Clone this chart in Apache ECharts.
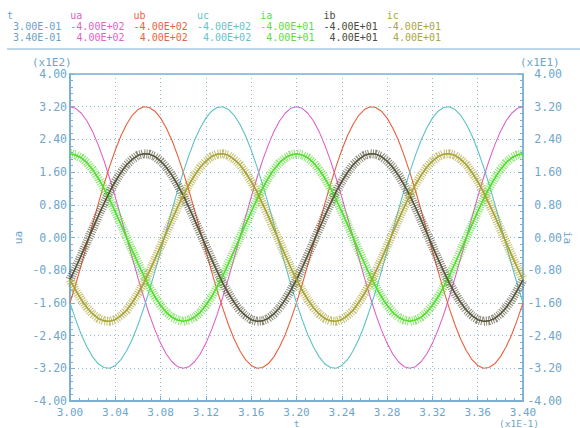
<!DOCTYPE html>
<html>
<head>
<meta charset="utf-8">
<script src="https://cdn.jsdelivr.net/npm/echarts@6/dist/echarts.min.js"></script>
<style>html,body{margin:0;padding:0;background:#fff;}#c{width:580px;height:428px;}</style>
</head>
<body>
<div id="c"></div>
<script>
// time axis (x1E-1)
var tVals = [3.000,3.005,3.010,3.015,3.020,3.025,3.030,3.035,3.040,3.045,3.050,3.055,3.060,3.065,3.070,3.075,3.080,3.085,3.090,3.095,3.100,3.105,3.110,3.115,3.120,3.125,3.130,3.135,3.140,3.145,3.150,3.155,3.160,3.165,3.170,3.175,3.180,3.185,3.190,3.195,3.200,3.205,3.210,3.215,3.220,3.225,3.230,3.235,3.240,3.245,3.250,3.255,3.260,3.265,3.270,3.275,3.280,3.285,3.290,3.295,3.300,3.305,3.310,3.315,3.320,3.325,3.330,3.335,3.340,3.345,3.350,3.355,3.360,3.365,3.370,3.375,3.380,3.385,3.390,3.395,3.400];
// voltages (V)
var ua = [320,316,304,285,259,226,188,145,99,50,0,-50,-99,-145,-188,-226,-259,-285,-304,-316,-320,-316,-304,-285,-259,-226,-188,-145,-99,-50,0,50,99,145,188,226,259,285,304,316,320,
          316,304,285,259,226,188,145,99,50,0,-50,-99,-145,-188,-226,-259,-285,-304,-316,-320,-316,-304,-285,-259,-226,-188,-145,-99,-50,0,50,99,145,188,226,259,285,304,316,320];
var ub = [-160,-115,-67,-17,33,83,130,174,214,249,277,299,313,320,318,309,292,268,238,201,160,115,67,17,-33,-83,-130,-174,-214,-249,-277,-299,-313,-320,-318,-309,-292,-268,-238,-201,-160,
          -115,-67,-17,33,83,130,174,214,249,277,299,313,320,318,309,292,268,238,201,160,115,67,17,-33,-83,-130,-174,-214,-249,-277,-299,-313,-320,-318,-309,-292,-268,-238,-201,-160];
var uc = [-160,-201,-238,-268,-292,-309,-318,-320,-313,-299,-277,-249,-214,-174,-130,-83,-33,17,67,115,160,201,238,268,292,309,318,320,313,299,277,249,214,174,130,83,33,-17,-67,-115,-160,
          -201,-238,-268,-292,-309,-318,-320,-313,-299,-277,-249,-214,-174,-130,-83,-33,17,67,115,160,201,238,268,292,309,318,320,313,299,277,249,214,174,130,83,33,-17,-67,-115,-160];
// currents (A)
var ia = [20.5,20.2,19.5,18.3,16.6,14.5,12.0,9.3,6.3,3.2,0,-3.2,-6.3,-9.3,-12.0,-14.5,-16.6,-18.3,-19.5,-20.2,-20.5,-20.2,-19.5,-18.3,-16.6,-14.5,-12.0,-9.3,-6.3,-3.2,0,3.2,6.3,9.3,12.0,14.5,16.6,18.3,19.5,20.2,20.5,
          20.2,19.5,18.3,16.6,14.5,12.0,9.3,6.3,3.2,0,-3.2,-6.3,-9.3,-12.0,-14.5,-16.6,-18.3,-19.5,-20.2,-20.5,-20.2,-19.5,-18.3,-16.6,-14.5,-12.0,-9.3,-6.3,-3.2,0,3.2,6.3,9.3,12.0,14.5,16.6,18.3,19.5,20.2,20.5];
var ib = [-10.3,-7.4,-4.3,-1.1,2.1,5.3,8.3,11.2,13.7,15.9,17.8,19.1,20.1,20.5,20.4,19.8,18.7,17.2,15.2,12.9,10.3,7.4,4.3,1.1,-2.1,-5.3,-8.3,-11.2,-13.7,-15.9,-17.8,-19.1,-20.1,-20.5,-20.4,-19.8,-18.7,-17.2,-15.2,-12.9,-10.3,
          -7.4,-4.3,-1.1,2.1,5.3,8.3,11.2,13.7,15.9,17.8,19.1,20.1,20.5,20.4,19.8,18.7,17.2,15.2,12.9,10.3,7.4,4.3,1.1,-2.1,-5.3,-8.3,-11.2,-13.7,-15.9,-17.8,-19.1,-20.1,-20.5,-20.4,-19.8,-18.7,-17.2,-15.2,-12.9,-10.3];
var ic = [-10.3,-12.9,-15.2,-17.2,-18.7,-19.8,-20.4,-20.5,-20.1,-19.1,-17.8,-15.9,-13.7,-11.2,-8.3,-5.3,-2.1,1.1,4.3,7.4,10.3,12.9,15.2,17.2,18.7,19.8,20.4,20.5,20.1,19.1,17.8,15.9,13.7,11.2,8.3,5.3,2.1,-1.1,-4.3,-7.4,-10.3,
          -12.9,-15.2,-17.2,-18.7,-19.8,-20.4,-20.5,-20.1,-19.1,-17.8,-15.9,-13.7,-11.2,-8.3,-5.3,-2.1,1.1,4.3,7.4,10.3,12.9,15.2,17.2,18.7,19.8,20.4,20.5,20.1,19.1,17.8,15.9,13.7,11.2,8.3,5.3,2.1,-1.1,-4.3,-7.4,-10.3];

// header table
var headerNames = ['t','ua','ub','uc','ia','ib','ic'];
var headerMins  = ['3.00E-01','-4.00E+02','-4.00E+02','-4.00E+02','-4.00E+01','-4.00E+01','-4.00E+01'];
var headerMaxs  = ['3.40E-01','4.00E+02','4.00E+02','4.00E+02','4.00E+01','4.00E+01','4.00E+01'];
var headerColors = ['#6aa2c8','#e062c8','#e8643e','#62c4c8','#5ede3c','#4a4a40','#aaa640'];
var lineColors = {ua:'#e060c8', ub:'#e8603c', uc:'#5ec2c4', ia:'#52dc2c', ib:'#55533a', ic:'#a8a232'};

var AX = '#7cb0d2';
var TXT = '#6ea6cc';
var MONO = '"DejaVu Sans Mono", "Liberation Mono", monospace';

function pairs(arr){ return tVals.map(function(t,i){ return [t, arr[i]]; }); }

var graphics = [];
var cw = 6.1, colW = 63.3, hx0 = 7;
var rowY = [15, 26, 37];
headerNames.forEach(function(n, i){
  var x = hx0 + i*colW;
  var col = headerColors[i];
  graphics.push({type:'text', silent:true, style:{text:n, x:x, y:rowY[0], fill:col, font:'10px ' + MONO, textAlign:'left', align:'left', textVerticalAlign:'middle', verticalAlign:'middle'}});
  [headerMins[i], headerMaxs[i]].forEach(function(s, r){
    var xo = s.charAt(0) === '-' ? x : x + cw;
    graphics.push({type:'text', silent:true, style:{text:s, x:xo, y:rowY[r+1], fill:col, font:'10px ' + MONO, textAlign:'left', align:'left', textVerticalAlign:'middle', verticalAlign:'middle'}});
  });
});
graphics.push({type:'line', silent:true, shape:{x1:7,y1:49,x2:580,y2:49}, style:{stroke:AX, lineWidth:1}});
graphics.push({type:'text', silent:true, style:{text:'(x1E2)', x:32, y:62, fill:TXT, font:'11px ' + MONO, textVerticalAlign:'middle', verticalAlign:'middle'}});
graphics.push({type:'text', silent:true, style:{text:'(x1E1)', x:520, y:62, fill:TXT, font:'11px ' + MONO, textVerticalAlign:'middle', verticalAlign:'middle'}});
graphics.push({type:'text', silent:true, style:{text:'(x1E-1)', x:499, y:423, fill:TXT, font:'9.5px ' + MONO, textVerticalAlign:'middle', verticalAlign:'middle'}});

var dotted = {show:true, lineStyle:{color:'#8cbcd8', type:[1,3], width:1}};

function voltSeries(name, arr){
  return {name:name, type:'line', xAxisIndex:0, yAxisIndex:0, data:pairs(arr), symbol:'none', silent:true,
          lineStyle:{color:lineColors[name], width:1.1}, z:3};
}
function curBand(name, arr){
  return {name:name+'_band', type:'line', xAxisIndex:0, yAxisIndex:1, data:pairs(arr), symbol:'none', silent:true,
          lineStyle:{color:lineColors[name], width:9, opacity:0.7, type:[1,1.3]}, z:4};
}
function curSeries(name, arr){
  return {name:name, type:'line', xAxisIndex:0, yAxisIndex:1, data:pairs(arr), symbol:'none', silent:true,
          lineStyle:{color:lineColors[name], width:1.6}, z:5};
}

var option = {
  animation:false,
  backgroundColor:'#ffffff',
  grid:{left:70, right:57, top:74, bottom:27, outerBoundsMode:'none', containLabel:false, show:true, borderColor:AX, borderWidth:1.5, backgroundColor:'transparent'},
  xAxis:[{
    type:'value', min:3.0, max:3.4, interval:0.04,
    name:'t', nameLocation:'middle', nameGap:17.5, nameMoveOverlap:false, nameTextStyle:{color:TXT, fontFamily:MONO, fontSize:9.5},
    axisLine:{show:true, onZero:false, lineStyle:{color:AX, width:2}},
    axisTick:{show:true, inside:true, length:5, lineStyle:{color:AX}},
    minorTick:{show:true, splitNumber:5, length:3, lineStyle:{color:AX}},
    axisLabel:{color:TXT, fontFamily:MONO, fontSize:11, margin:6, formatter:function(v){return v.toFixed(2);}},
    splitLine:dotted
  }],
  yAxis:[{
    type:'value', min:-400, max:400, interval:80, position:'left',
    name:'ua', nameLocation:'middle', nameGap:46, nameMoveOverlap:false, nameTextStyle:{color:TXT, fontFamily:MONO, fontSize:11},
    axisLine:{show:true, onZero:false, lineStyle:{color:AX, width:2}},
    axisTick:{show:true, inside:true, length:5, lineStyle:{color:AX}},
    minorTick:{show:true, splitNumber:5, length:3, lineStyle:{color:AX}},
    axisLabel:{color:TXT, fontFamily:MONO, fontSize:11.5, margin:3, formatter:function(v){return (v/100).toFixed(2);}},
    splitLine:dotted
  },{
    type:'value', min:-40, max:40, interval:8, position:'right',
    name:'ia', nameLocation:'middle', nameGap:39, nameRotate:-90, nameMoveOverlap:false, nameTextStyle:{color:TXT, fontFamily:MONO, fontSize:11},
    axisLine:{show:true, onZero:false, lineStyle:{color:AX, width:1.5}},
    axisTick:{show:true, inside:true, length:5, lineStyle:{color:AX}},
    minorTick:{show:true, splitNumber:5, length:3, lineStyle:{color:AX}},
    axisLabel:{color:TXT, fontFamily:MONO, fontSize:11.5, margin:39, align:'right', formatter:function(v){return (v/10).toFixed(2);}},
    splitLine:{show:false}
  }],
  graphic:graphics,
  series:[
    voltSeries('ua', ua), voltSeries('ub', ub), voltSeries('uc', uc),
    curBand('ia', ia), curBand('ib', ib), curBand('ic', ic),
    curSeries('ia', ia), curSeries('ib', ib), curSeries('ic', ic)
  ]
};
var chart = echarts.init(document.getElementById('c'), null, {renderer:'svg'});
chart.setOption(option);
</script>
</body>
</html>
